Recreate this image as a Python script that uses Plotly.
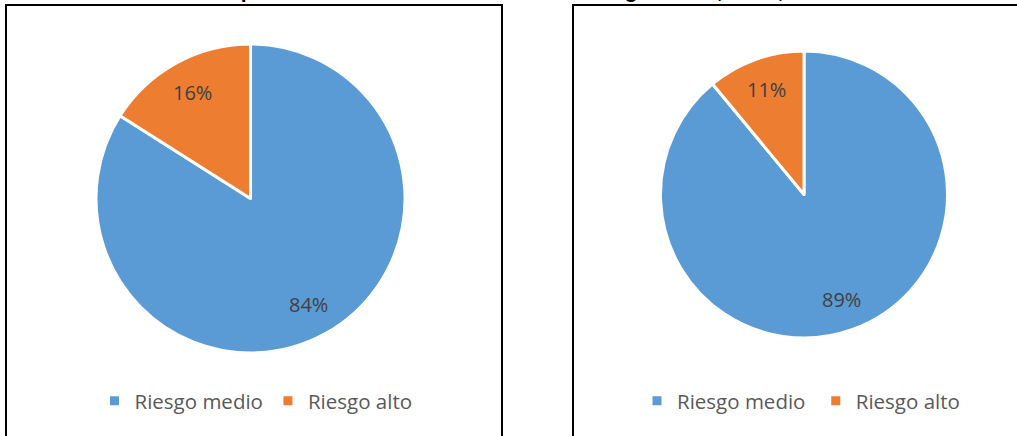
import math
import plotly.graph_objects as go

W, H = 1017, 436

labels = ["Riesgo medio", "Riesgo alto"]
values_left = [84, 16]
values_right = [89, 11]
colors = ["#5B9BD5", "#ED7D31"]
title_text = "Reporte del nivel de estrés académico según sexo, Lima, 2019"


def px_x(v):
    return v / W


def px_y(v):
    return 1 - v / H


def label_annotations(values, cx, cy, r, frac=0.78):
    """Percentage labels placed at each slice's mid-angle (clockwise from 12 o'clock)."""
    total = sum(values)
    out = []
    start = 0.0
    for v in values:
        mid = (start + v / 2) / total * 2 * math.pi
        start += v
        x = cx + frac * r * math.sin(mid)
        y = cy - frac * r * math.cos(mid)
        out.append(dict(text=f"{round(100 * v / total)}%", xref="paper", yref="paper",
                        x=px_x(x), y=px_y(y), xanchor="center", yanchor="middle",
                        showarrow=False,
                        font=dict(family="Open Sans", size=20, color="#404040")))
    return out


pies = [
    dict(values=values_left, labels=labels, cx=250.5, cy=198.5, r=154.5, legend="legend"),
    # trailing space keeps the second legend's entries separate from the first
    dict(values=values_right, labels=[l + " " for l in labels], cx=804, cy=194.5, r=143.5,
         legend="legend2"),
]

fig = go.Figure()
annotations = []
for p in pies:
    fig.add_trace(go.Pie(
        labels=p["labels"], values=p["values"], sort=False, direction="clockwise",
        rotation=0, marker=dict(colors=colors, line=dict(color="white", width=3)),
        textinfo="none",
        domain=dict(x=[px_x(p["cx"] - p["r"]), px_x(p["cx"] + p["r"])],
                    y=[px_y(p["cy"] + p["r"]), px_y(p["cy"] - p["r"])]),
        legend=p["legend"], hoverinfo="label+percent",
    ))
    annotations += label_annotations(p["values"], p["cx"], p["cy"], p["r"])

annotations.append(dict(text="<b>" + title_text + "</b>", xref="paper", yref="paper",
                        x=px_x(525), y=px_y(4), xanchor="center", yanchor="bottom",
                        showarrow=False,
                        font=dict(family="Liberation Sans", size=21, color="black")))

legend_common = dict(orientation="h", xanchor="center", yanchor="middle",
                     font=dict(family="Open Sans", size=20.5, color="#595959"),
                     bgcolor="rgba(0,0,0,0)")
fig.update_layout(
    width=W, height=H,
    margin=dict(l=0, r=0, t=0, b=0),
    paper_bgcolor="white", plot_bgcolor="white",
    showlegend=True,
    legend=dict(x=px_x(256), y=px_y(401), **legend_common),
    legend2=dict(x=px_x(804), y=px_y(401), **legend_common),
    shapes=[
        dict(type="rect", xref="paper", yref="paper", x0=px_x(6), x1=px_x(502),
             y0=px_y(460), y1=px_y(5), line=dict(color="black", width=2)),
        dict(type="rect", xref="paper", yref="paper", x0=px_x(573), x1=px_x(1060),
             y0=px_y(460), y1=px_y(5), line=dict(color="black", width=2)),
    ],
    annotations=annotations,
)

fig.write_html("out.html", config={"displayModeBar": False},
               post_script="document.body.style.margin='0';")
